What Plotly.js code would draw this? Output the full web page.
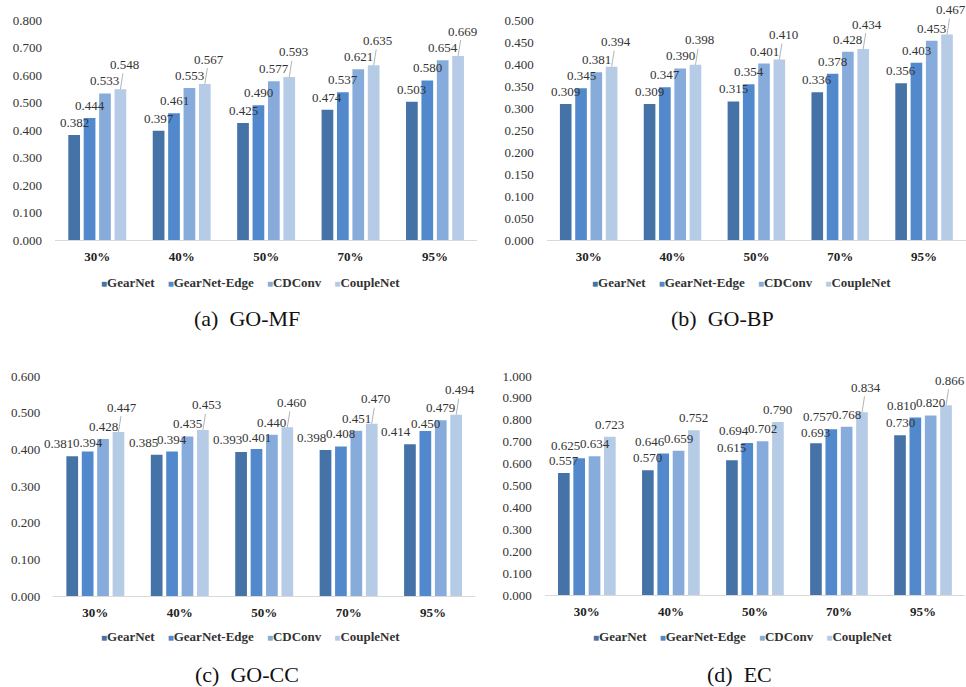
<!DOCTYPE html>
<html>
<head>
<meta charset="utf-8">
<script src="https://cdn.plot.ly/plotly-3.0.1.min.js"></script>
<style>html,body{margin:0;padding:0;background:#fff;}#chart{width:966px;height:687px;}</style>
</head>
<body>
<div id="chart"></div>
<script>
// ---- data ----
const categories = ['30%', '40%', '50%', '70%', '95%'];
const seriesNames = ['GearNet', 'GearNet-Edge', 'CDConv', 'CoupleNet'];

const mfGearNet = [0.382, 0.397, 0.425, 0.474, 0.503];
const mfGearNetEdge = [0.444, 0.461, 0.490, 0.537, 0.580];
const mfCDConv = [0.533, 0.553, 0.577, 0.621, 0.654];
const mfCoupleNet = [0.548, 0.567, 0.593, 0.635, 0.669];

const bpGearNet = [0.309, 0.309, 0.315, 0.336, 0.356];
const bpGearNetEdge = [0.345, 0.347, 0.354, 0.378, 0.403];
const bpCDConv = [0.381, 0.390, 0.401, 0.428, 0.453];
const bpCoupleNet = [0.394, 0.398, 0.410, 0.434, 0.467];

const ccGearNet = [0.381, 0.385, 0.393, 0.398, 0.414];
const ccGearNetEdge = [0.394, 0.394, 0.401, 0.408, 0.450];
const ccCDConv = [0.428, 0.435, 0.440, 0.451, 0.479];
const ccCoupleNet = [0.447, 0.453, 0.460, 0.470, 0.494];

const ecGearNet = [0.557, 0.570, 0.615, 0.693, 0.730];
const ecGearNetEdge = [0.625, 0.646, 0.694, 0.757, 0.810];
const ecCDConv = [0.634, 0.659, 0.702, 0.768, 0.820];
const ecCoupleNet = [0.723, 0.752, 0.790, 0.834, 0.866];

const captions = ['(a)\u00a0\u00a0GO-MF', '(b)\u00a0\u00a0GO-BP', '(c)\u00a0\u00a0GO-CC', '(d)\u00a0\u00a0EC'];

// ---- styles ----
const colors = ['#4573a8', '#5189cc', '#87acdc', '#b6cbe6'];
const serif = "'Liberation Serif', 'Times New Roman', serif";
const BARGAP = 0.27, GROUPGAP = 0.24;
const W = 966, H = 687;
const LBL_W = 28, LBL_H = 15, LBL_PAD = 3, LEAD_AY = 25, LEAD_AX = 4, TOL = 0.5, MAX_DROP = 7;

const panels = [
  {data: [mfGearNet, mfGearNetEdge, mfCDConv, mfCoupleNet], xa: 'x', ya: 'y', range: [0, 0.8], dtick: 0.1,
   xdom: [0.057, 0.494], ydom: [0.6507, 0.9709], leader: true},
  {data: [bpGearNet, bpGearNetEdge, bpCDConv, bpCoupleNet], xa: 'x2', ya: 'y2', range: [0, 0.5], dtick: 0.05,
   xdom: [0.566, 1.0], ydom: [0.6507, 0.9709], leader: true},
  {data: [ccGearNet, ccGearNetEdge, ccCDConv, ccCoupleNet], xa: 'x3', ya: 'y3', range: [0, 0.6], dtick: 0.1,
   xdom: [0.055, 0.492], ydom: [0.1325, 0.4527], leader: true},
  {data: [ecGearNet, ecGearNetEdge, ecCDConv, ecCoupleNet], xa: 'x4', ya: 'y4', range: [0, 1.0], dtick: 0.1,
   xdom: [0.564, 0.999], ydom: [0.1339, 0.4527], leader: false}
];
const legendPos = [[0.259, 0.5895], [0.768, 0.5895], [0.259, 0.0742], [0.769, 0.0742]];
const captionPos = [[0.256, 0.537], [0.748, 0.537], [0.256, 0.0175], [0.766, 0.0175]];

const traces = [];
const annotations = [];
const layout = {
  width: W, height: H,
  margin: {l: 0, r: 0, t: 0, b: 0},
  paper_bgcolor: '#fff', plot_bgcolor: '#fff',
  barmode: 'group', bargap: BARGAP, bargroupgap: GROUPGAP,
  showlegend: false,
  font: {family: serif, color: '#333'},
  annotations: annotations
};

const slot = (1 - BARGAP) / 4;
const offs = [0, 1, 2, 3].map(si => -(1 - BARGAP) / 2 + slot * (si + 0.5));
const overlap = (a, b) =>
  Math.min(a.x1, b.x1) - Math.max(a.x0, b.x0) > TOL && Math.min(a.y1, b.y1) - Math.max(a.y0, b.y0) > TOL;

panels.forEach((p, pi) => {
  const pxPerUnit = (p.ydom[1] - p.ydom[0]) * H / (p.range[1] - p.range[0]);
  const catPx = (p.xdom[1] - p.xdom[0]) * W / categories.length;
  p.data.forEach((vals, si) => {
    traces.push({
      type: 'bar', name: seriesNames[si], x: categories, y: vals,
      xaxis: p.xa, yaxis: p.ya,
      marker: {color: colors[si], line: {width: 0}},
      hoverinfo: 'x+y+name'
    });
  });
  // data labels: above each bar; nudged down or sideways when they would collide
  categories.forEach((c, ci) => {
    const vals = p.data.map(s => s[ci]);
    const box = (si, cx, lead, dy) => {
      const yc = vals[si] * pxPerUnit + (lead ? LEAD_AY : LBL_PAD + LBL_H / 2) - (dy || 0);
      return {x0: cx - LBL_W / 2, x1: cx + LBL_W / 2, y0: yc - LBL_H / 2, y1: yc + LBL_H / 2};
    };
    const centers = offs.map(o => o * catPx);
    const lead3 = p.leader || overlap(box(2, centers[2], false), box(3, centers[3], false));
    const boxes = [];
    boxes[3] = box(3, centers[3] + (lead3 ? LEAD_AX : 0), lead3);
    const shifts = [0, 0, 0, 0], drops = [0, 0, 0, 0];
    for (let si = 2; si >= 0; si--) {
      let b = box(si, centers[si], false);
      const nb = boxes[si + 1];
      if (overlap(b, nb)) {
        const need = b.y1 - nb.y0 + TOL + 0.1;
        if (need <= MAX_DROP) {
          drops[si] = need;
          b = box(si, centers[si], false, need);
        } else {
          const nc = nb.x0 - 1 - LBL_W / 2;
          shifts[si] = nc - centers[si];
          b = box(si, nc, false);
        }
      }
      boxes[si] = b;
    }
    vals.forEach((v, si) => {
      const a = {
        xref: p.xa, yref: p.ya, x: ci + offs[si], y: v,
        text: v.toFixed(3),
        font: {family: serif, size: 13, color: '#333'}
      };
      if (si === 3 && lead3) {
        Object.assign(a, {showarrow: true, arrowhead: 0, arrowwidth: 0.8, arrowcolor: '#a0a0a0',
          ax: LEAD_AX, ay: -LEAD_AY, standoff: 0});
      } else {
        Object.assign(a, {showarrow: false, xanchor: 'center', yanchor: 'bottom',
          xshift: shifts[si], yshift: LBL_PAD - drops[si]});
      }
      annotations.push(a);
    });
  });
  const sfx = pi === 0 ? '' : String(pi + 1);
  layout['xaxis' + sfx] = {
    domain: p.xdom, anchor: p.ya, type: 'category', range: [-0.5, categories.length - 0.5],
    autorange: false,
    showline: true, linecolor: '#d9d9d9', linewidth: 1, ticks: '', showgrid: false, zeroline: false,
    ticklabelstandoff: 4,
    tickfont: {family: serif, size: 13, color: '#222', weight: 'bold'}, fixedrange: true
  };
  layout['yaxis' + sfx] = {
    domain: p.ydom, anchor: p.xa, range: p.range, autorange: false, dtick: p.dtick, tick0: 0, tickformat: '.3f',
    showline: false, showgrid: false, zeroline: false, ticks: '', ticklabelstandoff: 12,
    tickfont: {family: serif, size: 13, color: '#333'}, fixedrange: true
  };
  // legend (text-based, built from series names and colours)
  const legText = seriesNames.map((n, si) =>
    '<span style="color:' + colors[si] + ';font-size:10px">\u25A0</span><b>' + n + '</b>'
  ).join('\u00a0\u00a0\u00a0\u00a0');
  annotations.push({
    xref: 'paper', yref: 'paper', x: legendPos[pi][0], y: legendPos[pi][1],
    xanchor: 'center', yanchor: 'middle', showarrow: false, text: legText,
    font: {family: serif, size: 13, color: '#333'}
  });
  annotations.push({
    xref: 'paper', yref: 'paper', x: captionPos[pi][0], y: captionPos[pi][1],
    xanchor: 'center', yanchor: 'middle', showarrow: false, text: captions[pi],
    font: {family: serif, size: 22, color: '#111'}
  });
});

Plotly.newPlot('chart', traces, layout, {displayModeBar: false, staticPlot: true});
</script>
</body>
</html>
